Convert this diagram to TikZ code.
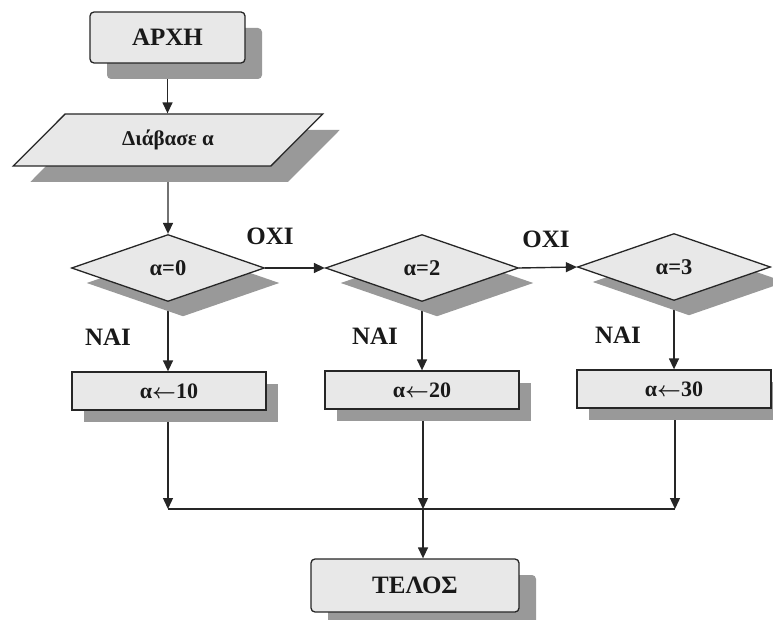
\documentclass[tikz,border=0pt]{standalone}
\usepackage{fontspec}
\setmainfont{Liberation Serif}
\usetikzlibrary{shapes.geometric,shadows,arrows.meta,backgrounds}
\newcommand{\asgn}{{\boldmath$\leftarrow$}}
\begin{document}
\begin{tikzpicture}[x=1pt,y=-1pt,
  base/.style={draw=black!85, line width=1.3pt, fill=black!9, text=black!90, inner sep=0pt},
  shd/.style 2 args={drop shadow={shadow xshift=#1pt, shadow yshift=-#2pt, fill=black!40, opacity=1}},
  termbox/.style={base, rectangle, rounded corners=4pt, minimum width=155pt, minimum height=51pt,
    font=\bfseries\fontsize{25}{28}\selectfont, shd={17}{16}},
  iobox/.style={base, trapezium, trapezium left angle=41, trapezium right angle=139,
    trapezium stretches=true, minimum width=310pt, minimum height=52pt,
    font=\bfseries\fontsize{21}{24}\selectfont, shd={17}{16}},
  decbox/.style={base, diamond, aspect=2.82, minimum width=193pt, minimum height=67pt,
    font=\bfseries\fontsize{22.5}{26}\selectfont, shd={15}{15}},
  procbox/.style={base, rectangle, minimum width=194pt, minimum height=38pt,
    font=\bfseries\fontsize{22}{26}\selectfont, shd={12}{12}},
  lbl/.style={font=\bfseries\fontsize{25}{28}\selectfont, text=black!90, inner sep=0pt},
  conn/.style={draw=black!85, line width=1.4pt},
  arr/.style={-{Triangle[length=11pt,width=10pt]}}
]
\useasboundingbox (0,0) rectangle (773,620);
\node[termbox] (start) at (167.5,37.5) {ΑΡΧΗ};
\node[iobox] (read) at (168,140) {Διάβασε α};
\node[decbox] (d1) at (168,268) {α=0};
\node[decbox] (d2) at (422,268) {α=2};
\node[decbox] (d3) at (674,267) {α=3};
\node[procbox] (r1) at (169,391) {α\asgn 10};
\node[procbox] (r2) at (422,390) {α\asgn 20};
\node[procbox] (r3) at (674,389) {α\asgn 30};
\node[termbox, minimum width=208pt, minimum height=53pt] (end) at (415,585.5) {ΤΕΛΟΣ};
\node[lbl] (no1) at (270,236) {ΟΧΙ};
\node[lbl] (no2) at (546,239) {ΟΧΙ};
\node[lbl] (yes1) at (108,337) {ΝΑΙ};
\node[lbl] (yes2) at (375,336) {ΝΑΙ};
\node[lbl] (yes3) at (618,335) {ΝΑΙ};
\coordinate (j1) at (168,509);
\coordinate (j2) at (423,509);
\coordinate (j3) at (675,509);
\begin{scope}[on background layer]
\draw[conn,arr] (start.south) -- (start.south |- read.north);
\draw[conn,arr] (read.south) -- (d1.north);
\draw[conn,arr] (d1.east) -- (d2.west);
\draw[conn,arr] (d2.east) -- (d3.west);
\draw[conn,arr] (d1.south) -- (d1.south |- r1.north);
\draw[conn,arr] (d2.south) -- (d2.south |- r2.north);
\draw[conn,arr] (d3.south) -- (d3.south |- r3.north);
\draw[conn,arr] (j1 |- r1.south) -- (j1);
\draw[conn,arr] (j2 |- r2.south) -- (j2);
\draw[conn,arr] (j3 |- r3.south) -- (j3);
\draw[conn] (j1) -- (j3);
\draw[conn,arr] (j2) -- (j2 |- end.north);
\end{scope}
\end{tikzpicture}
\end{document}
